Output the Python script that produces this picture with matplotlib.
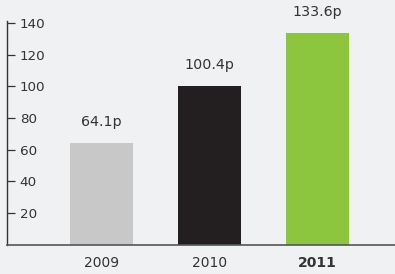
import matplotlib
matplotlib.use("Agg")
import matplotlib.pyplot as plt

years = ["2009", "2010", "2011"]
values = [64.1, 100.4, 133.6]
labels = ["64.1p", "100.4p", "133.6p"]
colors = ["#c8c8c9", "#231f20", "#8cc63f"]
yticks = [20, 40, 60, 80, 100, 120, 140]

plt.rcParams['font.family'] = ['DejaVu Sans']
bg = "#f0f1f3"
txt = "#333333"

fig = plt.figure(figsize=(3.95, 2.74), dpi=100, facecolor=bg)
ax = fig.add_axes([6.5/395, 1 - 244.5/274, 1 - 6.5/395, (244.5 - 20.5)/274])
ax.set_facecolor(bg)

x = list(range(len(years)))
ax.bar(x, values, width=0.583, color=colors)
for xi, v, l in zip(x, values, labels):
    ax.text(xi, v + 13, l, ha='center', va='center', fontsize=10.3, color=txt)

ax.set_xlim(-0.875, 2.718)
ax.set_ylim(0, 141.5)
ax.set_yticks(yticks)
ax.set_yticklabels([str(t) for t in yticks])
ax.tick_params(axis='y', direction='in', length=6, width=0.9, color='#333333',
               pad=-9.5, labelsize=9.7, labelcolor=txt)
for lab in ax.get_yticklabels():
    lab.set_horizontalalignment('left')
ax.set_xticks(x)
ax.set_xticklabels(years)
ax.tick_params(axis='x', length=0, pad=8, labelsize=10, labelcolor=txt)
ax.get_xticklabels()[2].set_fontweight('bold')

for s in ['top', 'right']:
    ax.spines[s].set_visible(False)
ax.spines['left'].set_color('#333333')
ax.spines['left'].set_linewidth(1.0)
ax.spines['bottom'].set_color('#555555')
ax.spines['bottom'].set_linewidth(1.2)

fig.savefig("out.png", dpi=100, facecolor=bg)
